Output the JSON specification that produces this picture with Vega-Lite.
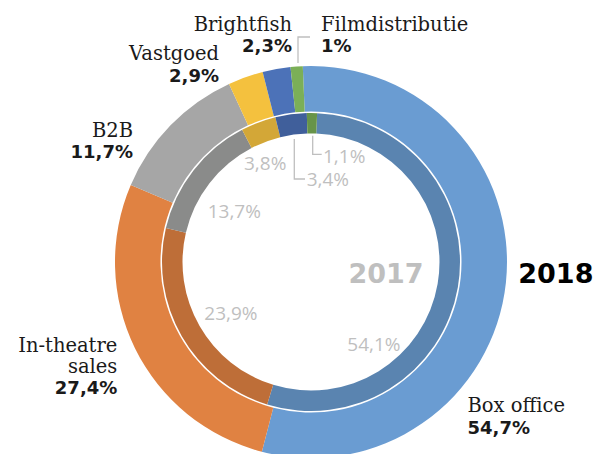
{
  "$schema": "https://vega.github.io/schema/vega-lite/v6.json",
  "width": 595,
  "height": 454,
  "padding": 0,
  "autosize": {"type": "none"},
  "background": "white",
  "config": {"view": {"stroke": null}},
  "datasets": {
    "rings": [
      {"year": 2018, "cat": "Box office", "idx": 1, "value": 54.7},
      {"year": 2018, "cat": "In-theatre sales", "idx": 2, "value": 27.4},
      {"year": 2018, "cat": "B2B", "idx": 3, "value": 11.7},
      {"year": 2018, "cat": "Vastgoed", "idx": 4, "value": 2.9},
      {"year": 2018, "cat": "Brightfish", "idx": 5, "value": 2.3},
      {"year": 2018, "cat": "Filmdistributie", "idx": 6, "value": 1.0},
      {"year": 2017, "cat": "Box office", "idx": 1, "value": 54.1},
      {"year": 2017, "cat": "In-theatre sales", "idx": 2, "value": 23.9},
      {"year": 2017, "cat": "B2B", "idx": 3, "value": 13.7},
      {"year": 2017, "cat": "Vastgoed", "idx": 4, "value": 3.8},
      {"year": 2017, "cat": "Brightfish", "idx": 5, "value": 3.4},
      {"year": 2017, "cat": "Filmdistributie", "idx": 6, "value": 1.1}
    ],
    "labels": [
      {"kind": "nameR", "text": "Brightfish", "x": -19, "y": 231},
      {"kind": "nameR", "text": "Vastgoed", "x": -92, "y": 202.5},
      {"kind": "nameR", "text": "B2B", "x": -178, "y": 125.3},
      {"kind": "nameR", "text": "In-theatre", "x": -193.7, "y": -89.5},
      {"kind": "nameR", "text": "sales", "x": -193.7, "y": -111},
      {"kind": "nameL", "text": "Filmdistributie", "x": 10, "y": 231},
      {"kind": "nameL", "text": "Box office", "x": 156.5, "y": -150},
      {"kind": "pctR", "text": "2,3%", "x": -19, "y": 210},
      {"kind": "pctR", "text": "2,9%", "x": -92, "y": 180.5},
      {"kind": "pctR", "text": "11,7%", "x": -178, "y": 104.3},
      {"kind": "pctR", "text": "27,4%", "x": -193.7, "y": -132.3},
      {"kind": "pctL", "text": "1%", "x": 10, "y": 210},
      {"kind": "pctL", "text": "54,7%", "x": 156.5, "y": -172},
      {"kind": "inner", "text": "1,1%", "x": 12, "y": 99.3},
      {"kind": "inner", "text": "3,4%", "x": -4.3, "y": 76},
      {"kind": "inner", "text": "3,8%", "x": -67, "y": 92},
      {"kind": "inner", "text": "13,7%", "x": -103.3, "y": 44},
      {"kind": "inner", "text": "23,9%", "x": -106.7, "y": -58},
      {"kind": "inner", "text": "54,1%", "x": 36.3, "y": -88.7},
      {"kind": "y2017", "text": "2017", "x": 75, "y": -21},
      {"kind": "y2018", "text": "2018", "x": 207.3, "y": -21}
    ],
    "leaders": [
      {"line": "film", "step": 1, "x": -1, "y": 225},
      {"line": "film", "step": 2, "x": -13, "y": 225},
      {"line": "film", "step": 3, "x": -13, "y": 199},
      {"line": "in11", "step": 1, "x": 1.7, "y": 126.3},
      {"line": "in11", "step": 2, "x": 1.7, "y": 107.7},
      {"line": "in11", "step": 3, "x": 10.7, "y": 107.7},
      {"line": "in34", "step": 1, "x": -16.7, "y": 123},
      {"line": "in34", "step": 2, "x": -16.7, "y": 83},
      {"line": "in34", "step": 3, "x": -6, "y": 83}
    ]
  },
  "layer": [
    {
      "data": {"name": "rings"},
      "transform": [{"filter": "datum.year == 2018"}],
      "mark": {"type": "arc", "radius": 196, "radius2": 150.5},
      "encoding": {
        "x": {"datum": 0, "type": "quantitative", "scale": {"domain": [-311, 284]}, "axis": null},
        "y": {"datum": 0, "type": "quantitative", "scale": {"domain": [-192, 262]}, "axis": null},
        "theta": {"field": "value", "type": "quantitative", "stack": true, "scale": {"domain": [0, 100], "range": [-0.0419, 6.2413]}},
        "order": {"field": "idx", "type": "quantitative"},
        "color": {
          "field": "cat", "type": "nominal", "legend": null,
          "scale": {
            "domain": ["Box office", "In-theatre sales", "B2B", "Vastgoed", "Brightfish", "Filmdistributie"],
            "range": ["#6A9CD2", "#E08242", "#A6A6A6", "#F4C13E", "#4C72B8", "#7BAF57"]
          }
        }
      }
    },
    {
      "data": {"name": "rings"},
      "transform": [{"filter": "datum.year == 2017"}],
      "mark": {"type": "arc", "radius": 149, "radius2": 128.5},
      "encoding": {
        "x": {"datum": 0, "type": "quantitative", "scale": {"domain": [-311, 284]}, "axis": null},
        "y": {"datum": 0, "type": "quantitative", "scale": {"domain": [-192, 262]}, "axis": null},
        "theta": {"field": "value", "type": "quantitative", "stack": true, "scale": {"domain": [0, 100], "range": [0.041, 6.3242]}},
        "order": {"field": "idx", "type": "quantitative"},
        "color": {
          "field": "cat", "type": "nominal", "legend": null,
          "scale": {
            "domain": ["Box office", "In-theatre sales", "B2B", "Vastgoed", "Brightfish", "Filmdistributie"],
            "range": ["#5A84B0", "#BE6E38", "#8A8B8A", "#D3A737", "#405F9B", "#679449"]
          }
        }
      }
    },
    {
      "data": {"name": "leaders"},
      "mark": {"type": "line", "color": "#BFBFBF", "strokeWidth": 1.3, "interpolate": "linear"},
      "encoding": {
        "x": {"field": "x", "type": "quantitative", "scale": {"domain": [-311, 284]}, "axis": null},
        "y": {"field": "y", "type": "quantitative", "scale": {"domain": [-192, 262]}, "axis": null},
        "detail": {"field": "line", "type": "nominal"},
        "order": {"field": "step", "type": "quantitative"}
      }
    },
    {
      "data": {"name": "labels"},
      "transform": [{"filter": "datum.kind == 'nameR'"}],
      "mark": {"type": "text", "align": "right", "baseline": "alphabetic", "font": "DejaVu Serif", "fontSize": 19.5, "color": "#1A1A1A"},
      "encoding": {
        "x": {"field": "x", "type": "quantitative", "scale": {"domain": [-311, 284]}, "axis": null},
        "y": {"field": "y", "type": "quantitative", "scale": {"domain": [-192, 262]}, "axis": null},
        "text": {"field": "text"}
      }
    },
    {
      "data": {"name": "labels"},
      "transform": [{"filter": "datum.kind == 'nameL'"}],
      "mark": {"type": "text", "align": "left", "baseline": "alphabetic", "font": "DejaVu Serif", "fontSize": 19.5, "color": "#1A1A1A"},
      "encoding": {
        "x": {"field": "x", "type": "quantitative", "scale": {"domain": [-311, 284]}, "axis": null},
        "y": {"field": "y", "type": "quantitative", "scale": {"domain": [-192, 262]}, "axis": null},
        "text": {"field": "text"}
      }
    },
    {
      "data": {"name": "labels"},
      "transform": [{"filter": "datum.kind == 'pctR'"}],
      "mark": {"type": "text", "align": "right", "baseline": "alphabetic", "font": "DejaVu Sans", "fontWeight": "bold", "fontSize": 18, "color": "#1A1A1A"},
      "encoding": {
        "x": {"field": "x", "type": "quantitative", "scale": {"domain": [-311, 284]}, "axis": null},
        "y": {"field": "y", "type": "quantitative", "scale": {"domain": [-192, 262]}, "axis": null},
        "text": {"field": "text"}
      }
    },
    {
      "data": {"name": "labels"},
      "transform": [{"filter": "datum.kind == 'pctL'"}],
      "mark": {"type": "text", "align": "left", "baseline": "alphabetic", "font": "DejaVu Sans", "fontWeight": "bold", "fontSize": 18, "color": "#1A1A1A"},
      "encoding": {
        "x": {"field": "x", "type": "quantitative", "scale": {"domain": [-311, 284]}, "axis": null},
        "y": {"field": "y", "type": "quantitative", "scale": {"domain": [-192, 262]}, "axis": null},
        "text": {"field": "text"}
      }
    },
    {
      "data": {"name": "labels"},
      "transform": [{"filter": "datum.kind == 'inner'"}],
      "mark": {"type": "text", "align": "left", "baseline": "alphabetic", "font": "Open Sans", "fontSize": 19, "color": "#BFBFBF"},
      "encoding": {
        "x": {"field": "x", "type": "quantitative", "scale": {"domain": [-311, 284]}, "axis": null},
        "y": {"field": "y", "type": "quantitative", "scale": {"domain": [-192, 262]}, "axis": null},
        "text": {"field": "text"}
      }
    },
    {
      "data": {"name": "labels"},
      "transform": [{"filter": "datum.kind == 'y2017'"}],
      "mark": {"type": "text", "align": "center", "baseline": "alphabetic", "font": "DejaVu Sans", "fontWeight": "bold", "fontSize": 27, "color": "#BFBFBF"},
      "encoding": {
        "x": {"field": "x", "type": "quantitative", "scale": {"domain": [-311, 284]}, "axis": null},
        "y": {"field": "y", "type": "quantitative", "scale": {"domain": [-192, 262]}, "axis": null},
        "text": {"field": "text"}
      }
    },
    {
      "data": {"name": "labels"},
      "transform": [{"filter": "datum.kind == 'y2018'"}],
      "mark": {"type": "text", "align": "left", "baseline": "alphabetic", "font": "DejaVu Sans", "fontWeight": "bold", "fontSize": 27, "color": "#000000"},
      "encoding": {
        "x": {"field": "x", "type": "quantitative", "scale": {"domain": [-311, 284]}, "axis": null},
        "y": {"field": "y", "type": "quantitative", "scale": {"domain": [-192, 262]}, "axis": null},
        "text": {"field": "text"}
      }
    }
  ],
  "resolve": {"scale": {"theta": "independent", "color": "independent"}}
}
